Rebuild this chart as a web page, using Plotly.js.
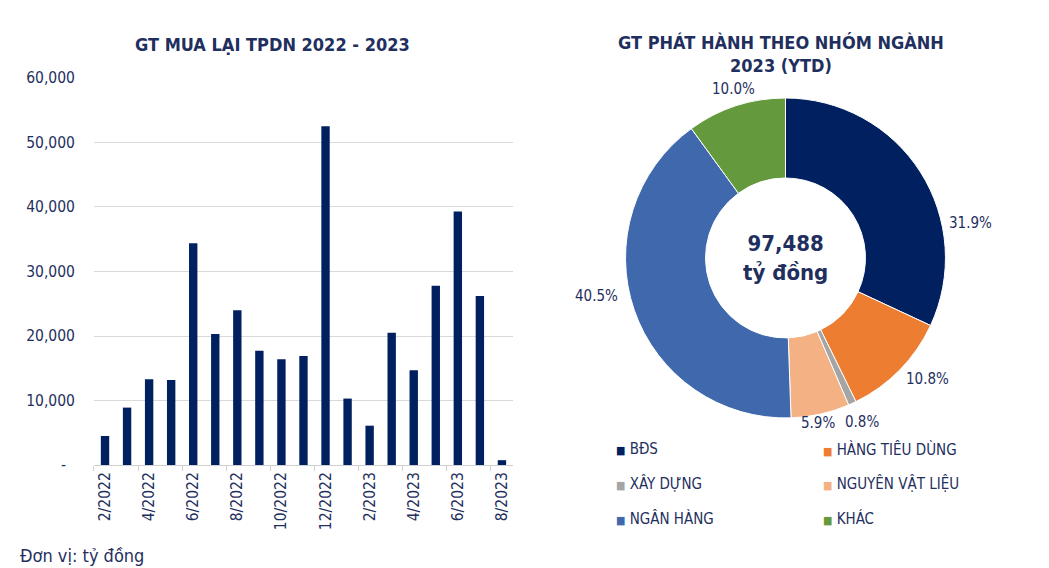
<!DOCTYPE html>
<html>
<head>
<meta charset="utf-8">
<script src="https://cdn.plot.ly/plotly-3.0.1.min.js"></script>
<style>
html,body{margin:0;padding:0;background:#fff;}
#chart{width:1049px;height:568px;}
</style>
</head>
<body>
<div id="chart"></div>
<script>
// ---- Data ----
const months = ["2/2022","3/2022","4/2022","5/2022","6/2022","7/2022","8/2022","9/2022","10/2022","11/2022","12/2022",
                "1/2023","2/2023","3/2023","4/2023","5/2023","6/2023","7/2023","8/2023"];
const buyback = [4500, 8900, 13300, 13200, 34400, 20300, 24000, 17700, 16400, 16900, 52500,
                 10300, 6100, 20500, 14700, 27800, 39300, 26200, 750];
const yTickVals = [0, 10000, 20000, 30000, 40000, 50000, 60000];
const yTickText = ["-\u00a0\u00a0", "10,000", "20,000", "30,000", "40,000", "50,000", "60,000"];

const sectors = ["BĐS", "HÀNG TIÊU DÙNG", "XÂY DỰNG", "NGUYÊN VẬT LIỆU", "NGÂN HÀNG", "KHÁC"];
const sectorShare = [31.9, 10.8, 0.8, 5.9, 40.5, 10.0];
const sectorColors = ["#002060", "#ED7D31", "#A5A5A5", "#F4B183", "#4068AD", "#649A3D"];
const totalIssued = "97,488";

// ---- Style / layout helpers ----
const W = 1049, H = 568;
const NAVY = "#1F2F5E";
const FONT = "'DejaVu Sans Condensed', 'DejaVu Sans', sans-serif";
const px = x => x / W;
const py = y => 1 - y / H;

// label placement (pixel anchors, Excel-style "best fit")
const pctLabelPos = [[970, 223], [927, 379], [862, 422], [818, 423], [596, 296], [733, 89]];
// legend grid: two columns, three rows
const legendCols = [614, 821];
const legendRows = [449, 483, 518];

const xPos = months.map((_, i) => i);
const labelIdx = xPos.filter(i => i % 2 === 0);
const boundaryTicks = labelIdx.map(i => i - 0.5);

const traces = [
  {
    type: "bar",
    x: xPos,
    y: buyback,
    marker: {color: "#002060"},
    hoverinfo: "skip",
    showlegend: false,
    xaxis: "x", yaxis: "y"
  },
  {
    type: "pie",
    labels: sectors,
    values: sectorShare,
    marker: {colors: sectorColors, line: {color: "#ffffff", width: 1}},
    sort: false,
    direction: "clockwise",
    rotation: 0,
    hole: 0.5,
    textinfo: "none",
    domain: {x: [0.5963, 0.9013], y: [0.2641, 0.8275]},
    hoverinfo: "skip",
    showlegend: false
  }
];

const annotations = [
  {text: "<b>GT MUA LẠI TPDN 2022 - 2023</b>", x: 0.260, y: 0.921, font: {size: 18}},
  {text: "<b>GT PHÁT HÀNH THEO NHÓM NGÀNH<br>2023 (YTD)</b>", x: 0.7445, y: 0.905, font: {size: 18}},
  {text: "<b>" + totalIssued + "<br>tỷ đồng</b>", x: 0.7488, y: 0.546, font: {size: 22}},
  {text: "Đơn vị: tỷ đồng", x: px(18), y: py(555), xanchor: "left", font: {size: 18}}
];
sectorShare.forEach((v, i) => {
  annotations.push({text: v.toFixed(1) + "%", x: px(pctLabelPos[i][0]), y: py(pctLabelPos[i][1]), font: {size: 15}});
});
sectors.forEach((name, i) => {
  const col = i % 2, row = Math.floor(i / 2);
  annotations.push({
    text: '<span style="font-size:11px;color:' + sectorColors[i] + '">■</span> ' + name,
    x: px(legendCols[col]), y: py(legendRows[row]), xanchor: "left", font: {size: 15}
  });
});
annotations.forEach(a => {
  a.xref = "paper"; a.yref = "paper"; a.showarrow = false;
  a.xanchor = a.xanchor || "center"; a.yanchor = "middle";
  a.font = Object.assign({family: FONT, color: NAVY}, a.font);
});

const layout = {
  width: W, height: H,
  margin: {l: 0, r: 0, t: 0, b: 0, autoexpand: false},
  paper_bgcolor: "#ffffff",
  plot_bgcolor: "#ffffff",
  font: {family: FONT, color: NAVY, size: 15},
  showlegend: false,
  bargap: 0.62,
  xaxis: {
    domain: [0.0896, 0.489],
    range: [-0.5, months.length - 0.5],
    tickmode: "array",
    tickvals: labelIdx,
    ticktext: labelIdx.map(i => months[i]),
    tickangle: -90,
    ticks: "",
    tickfont: {family: FONT, size: 15.5, color: NAVY},
    showgrid: false,
    zeroline: false,
    showline: true,
    linecolor: "#D0D0D0",
    linewidth: 1,
    minor: {tickmode: "array", tickvals: boundaryTicks, ticks: "outside", ticklen: 5, tickcolor: "#D0D0D0", tickwidth: 1, showgrid: false},
    fixedrange: true
  },
  yaxis: {
    domain: [0.1813, 0.8627],
    range: [0, 60000],
    tickmode: "array",
    tickvals: yTickVals,
    ticktext: yTickText,
    tickfont: {family: FONT, size: 15.5, color: NAVY},
    ticks: "",
    ticklabelstandoff: 18,
    showgrid: true,
    gridcolor: "#D9D9D9",
    gridwidth: 1,
    zeroline: false,
    showline: false,
    fixedrange: true
  },
  annotations: annotations
};

Plotly.newPlot("chart", traces, layout, {displayModeBar: false, staticPlot: true});
</script>
</body>
</html>
